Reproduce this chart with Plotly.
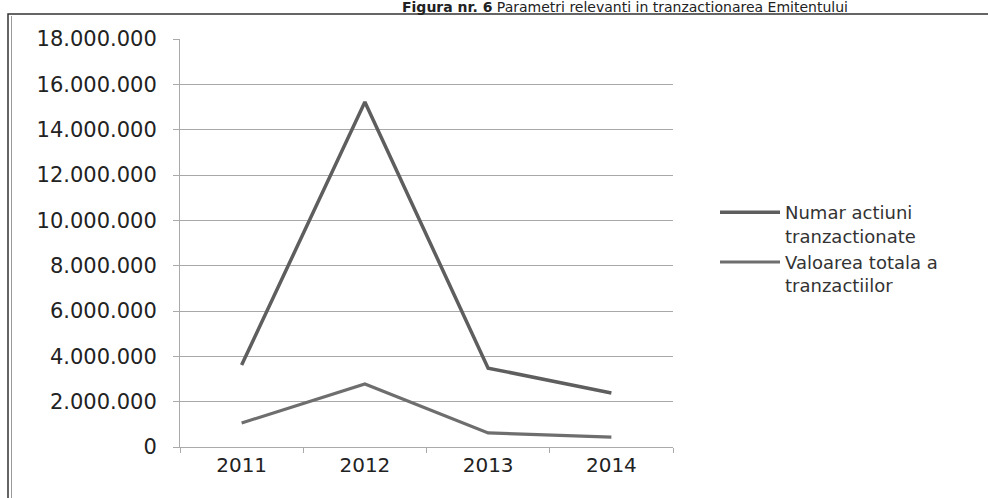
import plotly.graph_objects as go

years = ["2011", "2012", "2013", "2014"]
numar_actiuni = [3620000, 15220000, 3480000, 2380000]
valoare_totala = [1060000, 2780000, 620000, 440000]
series_names = ["Numar actiuni<br>tranzactionate", "Valoarea totala a<br>tranzactiilor"]
y_ticks = [0, 2000000, 4000000, 6000000, 8000000, 10000000, 12000000, 14000000, 16000000, 18000000]

W, H = 988, 498
L, R, T, B = 180, 315, 39, 51
pw, ph = W - L - R, H - T - B

def px(x):
    return (x - L) / pw

def py(y):
    return (H - B - y) / ph

fig = go.Figure()
fig.add_trace(go.Scatter(x=years, y=numar_actiuni, mode="lines", name=series_names[0],
                         line=dict(color="#5e5e5e", width=3.5)))
fig.add_trace(go.Scatter(x=years, y=valoare_totala, mode="lines", name=series_names[1],
                         line=dict(color="#6e6e6e", width=3.2)))

font = "DejaVu Sans, Verdana, sans-serif"
fig.update_layout(
    width=W, height=H,
    margin=dict(l=L, r=R, t=T, b=B),
    paper_bgcolor="white", plot_bgcolor="white",
    separators=",.",
    font=dict(family=font, size=19, color="#222"),
    showlegend=True,
    legend=dict(x=px(715), y=py(194), xanchor="left", yanchor="top",
                valign="top", font=dict(size=18, color="#333"),
                itemwidth=60, tracegroupgap=11, bgcolor="rgba(0,0,0,0)"),
    xaxis=dict(type="category", range=[-0.5, 3.5], showgrid=False,
               showline=True, linecolor="#aaa", linewidth=1,
               ticks="outside", ticklen=5, tickcolor="#aaa", tickson="boundaries",
               tickfont=dict(size=20, color="#222"), zeroline=False),
    yaxis=dict(range=[0, 18000000], tickvals=y_ticks, tickformat=",d",
               showgrid=True, gridcolor="#a8a8a8", gridwidth=1,
               showline=True, linecolor="#aaa", linewidth=1,
               ticks="outside", ticklen=6, tickcolor="#aaa",
               tickfont=dict(size=21, color="#222"), zeroline=False, ticklabelstandoff=12),
)

# outer frame of the figure (partially cut off, as in the scan)
fig.add_shape(type="rect", xref="paper", yref="paper",
              x0=px(8), x1=px(1000), y0=py(510), y1=py(14),
              line=dict(color="#333", width=1.5))
fig.add_shape(type="line", xref="paper", yref="paper",
              x0=px(11.5), x1=px(11.5), y0=py(510), y1=py(16),
              line=dict(color="#999", width=1))

# caption above the frame
fig.add_annotation(xref="paper", yref="paper", x=px(625), y=py(7), xanchor="center", yanchor="middle",
                   text="<b>Figura nr. 6</b> Parametri relevanti in tranzactionarea Emitentului",
                   showarrow=False, font=dict(size=14, color="#222", family=font))

fig.write_html("out.html", config={"displayModeBar": False},
               post_script="document.body.style.margin='0';")
